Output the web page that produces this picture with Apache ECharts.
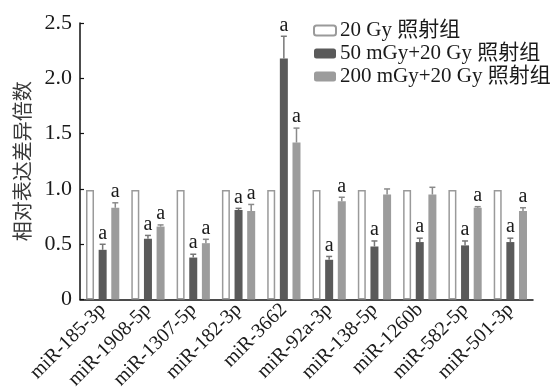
<!DOCTYPE html>
<html>
<head>
<meta charset="utf-8">
<script src="https://cdn.jsdelivr.net/npm/echarts@6/dist/echarts.min.js"></script>
<style>
  html, body { margin: 0; padding: 0; background: #fff; }
  #chart { width: 557px; height: 392px; }
</style>
</head>
<body>
<div id="chart"></div>
<script>
// miRNA names on the category axis
const categories = ['miR-185-3p', 'miR-1908-5p', 'miR-1307-5p', 'miR-182-3p', 'miR-3662',
  'miR-92a-3p', 'miR-138-5p', 'miR-1260b', 'miR-582-5p', 'miR-501-3p'];

const seriesNames = ['20 Gy 照射组', '50 mGy+20 Gy 照射组', '200 mGy+20 Gy 照射组'];

// Relative expression fold change
const control20Gy = [0.99, 0.99, 0.99, 0.99, 0.99, 0.99, 0.99, 0.99, 0.99, 0.99];
const low50mGy = [0.45, 0.55, 0.38, 0.81, 2.18, 0.36, 0.48, 0.52, 0.49, 0.52];
const low200mGy = [0.83, 0.66, 0.51, 0.80, 1.42, 0.89, 0.95, 0.95, 0.83, 0.80];

// Upper error (SD)
const err50mGy = [0.05, 0.03, 0.03, 0.015, 0.20, 0.03, 0.05, 0.035, 0.04, 0.035];
const err200mGy = [0.045, 0.015, 0.035, 0.06, 0.13, 0.035, 0.05, 0.065, 0.01, 0.03];

// Significance marks above each bar ('' = none)
const sig50mGy = ['a', 'a', 'a', 'a', 'a', 'a', 'a', 'a', 'a', 'a'];
const sig200mGy = ['a', 'a', 'a', 'a', 'a', 'a', '', '', 'a', 'a'];

const yTicks = { min: 0, max: 2.5, interval: 0.5 };

const FONT = '"Liberation Serif", "Noto Sans CJK SC", serif';
const BAR_W = 8;
const GAP_RATIO = 0.58;
const SLOT = BAR_W * (1 + GAP_RATIO);

function errorSeries(values, errs, marks, slotIndex, color) {
  return {
    type: 'custom',
    silent: true,
    z: 5,
    data: values.map((v, i) => [i, v, errs[i]]),
    renderItem: function (params, api) {
      const idx = api.value(0);
      const v = api.value(1);
      const e = api.value(2);
      const mark = marks[params.dataIndex];
      const base = api.coord([idx, v]);
      const top = api.coord([idx, v + e]);
      const x = base[0] + slotIndex * SLOT;
      const children = [
        { type: 'line', shape: { x1: x, y1: base[1], x2: x, y2: top[1] },
          style: { stroke: color, lineWidth: 1.5 } },
        { type: 'line', shape: { x1: x - 3, y1: top[1], x2: x + 3, y2: top[1] },
          style: { stroke: color, lineWidth: 1.5 } }
      ];
      if (mark) {
        children.push({
          type: 'text',
          style: {
            x: x, y: top[1] - 1, text: mark,
            align: 'center', verticalAlign: 'bottom',
            font: '20px ' + FONT, fill: '#1a1a1a'
          }
        });
      }
      return { type: 'group', children: children };
    }
  };
}

const chart = echarts.init(document.getElementById('chart'), null, { renderer: 'canvas' });

chart.setOption({
  animation: false,
  backgroundColor: '#fff',
  textStyle: { fontFamily: FONT, color: '#1a1a1a' },
  grid: { left: 80, right: 24, top: 23, bottom: 89, containLabel: false },
  legend: {
    left: 308, top: 15, orient: 'vertical',
    itemWidth: 22, itemHeight: 10, itemGap: 2,
    data: seriesNames,
    textStyle: { fontSize: 21, fontFamily: FONT, color: '#1a1a1a', padding: [0, 0, 0, -1] }
  },
  xAxis: {
    type: 'category',
    data: categories,
    axisLine: { lineStyle: { color: '#111', width: 1.5 } },
    axisTick: { show: false },
    axisLabel: { interval: 0, rotate: 45, margin: 7, fontSize: 20, fontFamily: FONT, color: '#1a1a1a' }
  },
  yAxis: {
    type: 'value',
    min: yTicks.min, max: yTicks.max, interval: yTicks.interval,
    name: '相对表达差异倍数',
    nameLocation: 'middle', nameGap: 48, nameRotate: 90,
    nameTextStyle: { fontSize: 20, fontFamily: '"Noto Sans CJK SC", sans-serif', color: '#3a3a3a' },
    axisLine: { show: true, lineStyle: { color: '#111', width: 1.5 } },
    axisTick: { show: true, inside: true, length: 4, lineStyle: { color: '#111', width: 1.2 } },
    splitLine: { show: false },
    axisLabel: {
      fontSize: 22, fontFamily: FONT, color: '#1a1a1a', margin: 8,
      formatter: v => (v === 0 ? '0' : v.toFixed(1))
    }
  },
  series: [
    {
      name: seriesNames[0], type: 'bar', data: control20Gy,
      barWidth: BAR_W, barGap: (GAP_RATIO * 100) + '%',
      itemStyle: { color: '#ffffff', borderColor: '#9a9a9a', borderWidth: 1.5 }
    },
    {
      name: seriesNames[1], type: 'bar', data: low50mGy,
      barWidth: BAR_W, barGap: (GAP_RATIO * 100) + '%',
      itemStyle: { color: '#5a5a5a' }
    },
    {
      name: seriesNames[2], type: 'bar', data: low200mGy,
      barWidth: BAR_W, barGap: (GAP_RATIO * 100) + '%',
      itemStyle: { color: '#9c9c9c' }
    },
    errorSeries(low50mGy, err50mGy, sig50mGy, 0, '#777777'),
    errorSeries(low200mGy, err200mGy, sig200mGy, 1, '#8a8a8a')
  ]
});
</script>
</body>
</html>
